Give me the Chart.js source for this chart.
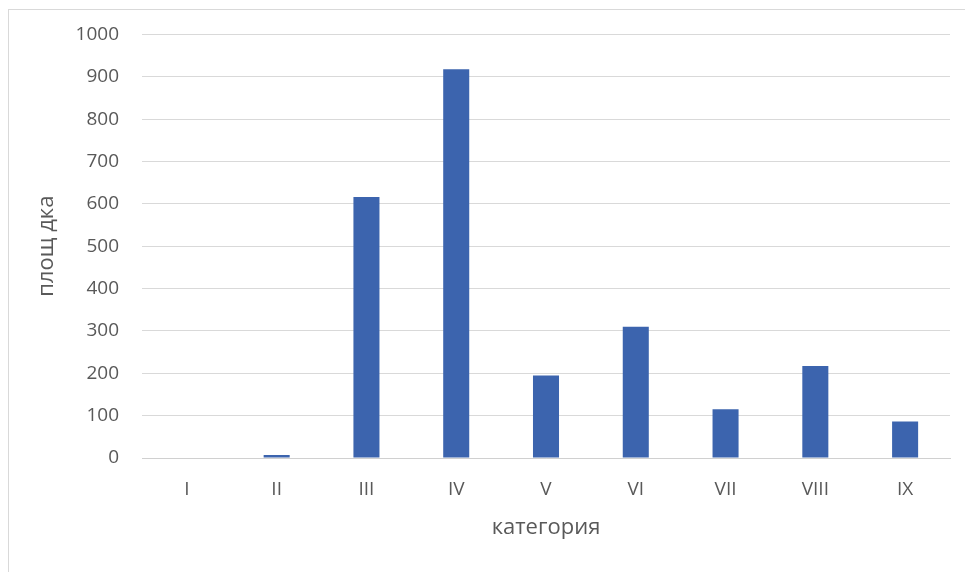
<!DOCTYPE html>
<html>
<head>
<meta charset="utf-8">
<script src="https://cdn.jsdelivr.net/npm/chart.js@4/dist/chart.umd.min.js"></script>
<style>
  html, body { margin: 0; padding: 0; background: #ffffff; }
  #wrap { position: absolute; left: 0; top: 0; width: 965px; height: 572px; overflow: hidden; }
  #frame { position: absolute; left: 8px; top: 9px; width: 1000px; height: 600px; border: 1px solid #d9d9d9; box-sizing: border-box; }
  #c { position: absolute; left: 0; top: 0; }
</style>
</head>
<body>
<div id="wrap">
  <div id="frame"></div>
  <canvas id="c" width="965" height="572"></canvas>
</div>
<script>
// Area per category (dka)
const categories = ['I', 'II', 'III', 'IV', 'V', 'VI', 'VII', 'VIII', 'IX'];
const areaValues = [0, 7, 616, 918, 195, 310, 115, 217, 86];
const yTickValues = [0, 100, 200, 300, 400, 500, 600, 700, 800, 900, 1000];

const textColor = '#595959';
const fontFamily = '"Open Sans", "DejaVu Sans", sans-serif';

new Chart(document.getElementById('c'), {
  type: 'bar',
  data: {
    labels: categories,
    datasets: [{
      label: 'площ дка',
      data: areaValues,
      backgroundColor: '#3c64ae',
      borderWidth: 0,
      barPercentage: 0.29,
      categoryPercentage: 1.0
    }]
  },
  options: {
    responsive: false,
    animation: false,
    layout: { padding: { left: 30, right: 15, top: 24, bottom: 27 } },
    plugins: { legend: { display: false }, tooltip: { enabled: false } },
    scales: {
      x: {
        grid: { display: false, drawTicks: false },
        border: { display: true, color: '#d0d0d0', width: 1 },
        ticks: { color: textColor, font: { family: fontFamily, size: 19 }, padding: 20, maxRotation: 0 },
        title: { display: true, text: 'категория', color: textColor, font: { family: fontFamily, size: 22 }, padding: 4 },
        afterFit: (s) => { s.height = 87; }
      },
      y: {
        min: 0,
        max: 1000,
        afterBuildTicks: (s) => { s.ticks = yTickValues.map(v => ({ value: v })); },
        grid: { color: '#d9d9d9', lineWidth: 1, drawTicks: false },
        border: { display: false },
        ticks: { color: textColor, font: { family: fontFamily, size: 19 }, padding: 23, callback: (v) => String(v) },
        title: { display: true, text: 'площ дка', color: textColor, font: { family: fontFamily, size: 22 }, padding: 4 },
        afterFit: (s) => { s.width = 112; }
      }
    }
  }
});
</script>
</body>
</html>
